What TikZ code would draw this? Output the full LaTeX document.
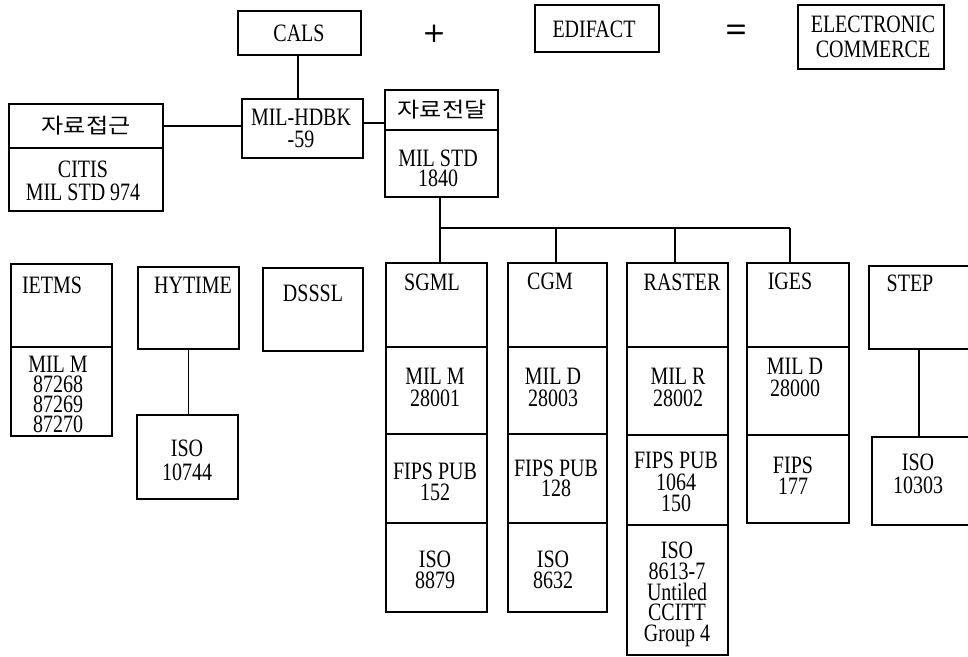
\documentclass[tikz,border=0pt]{standalone}
\usepackage{fontspec}
\setmainfont[FakeStretch=0.8]{Liberation Serif}
\newfontfamily\kor[FakeStretch=1.15]{Noto Sans CJK KR}
\newfontfamily\symf[FakeBold=1.5]{Liberation Serif}
\usetikzlibrary{fit}
\newcommand\bx[5]{\coordinate (#1-a) at (#2,#3); \coordinate (#1-b) at (#4,#5); \node[boxst, fit=(#1-a)(#1-b)] (#1) {};}
\begin{document}
\begin{tikzpicture}[x=1pt,y=-1pt,
 boxst/.style={draw, line width=1.2pt, inner sep=0pt},
 lbl/.style={font=\fontsize{25}{#1}\selectfont, align=center, inner sep=0pt},
 lbl/.default=21,
 sym/.style={font=\symf\fontsize{36}{36}\selectfont, inner sep=0pt},
 kl/.style={font=\kor\fontsize{21}{21}\selectfont, inner sep=0pt},
 conn/.style={line width=1.2pt}]
\useasboundingbox[fill=white] (0,0) rectangle (968,656);
\clip (0,0) rectangle (968,656);
% boxes
\bx{cals}{238}{11}{361}{55}
\bx{edi}{535}{5}{659}{52}
\bx{ec}{798}{5}{944}{69}
\bx{hdbk}{242}{99}{363}{158}
\bx{acc}{9}{104}{163}{148}
\bx{acc2}{9}{148}{163}{211}
\bx{dlv}{385}{90}{498}{130}
\bx{std}{385}{130}{498}{197}
\bx{ietms}{11}{264}{112}{347}
\bx{ietmsb}{11}{347}{112}{436}
\bx{hy}{138}{267}{239}{349}
\bx{isohy}{137}{415}{238}{499}
\bx{dsssl}{263}{268}{363}{351}
\bx{sgml}{386}{263}{487}{347}
\bx{sgmlb}{386}{347}{487}{434}
\bx{sgmlc}{386}{434}{487}{523}
\bx{sgmld}{386}{523}{487}{612}
\bx{cgm}{508}{263}{607}{347}
\bx{cgmb}{508}{347}{607}{434}
\bx{cgmc}{508}{434}{607}{523}
\bx{cgmd}{508}{523}{607}{612}
\bx{ras}{627}{263}{728}{347}
\bx{rasb}{627}{347}{728}{435}
\bx{rasc}{627}{435}{728}{525}
\bx{rasd}{627}{525}{728}{655}
\bx{iges}{747}{263}{849}{347}
\bx{igesb}{747}{347}{849}{435}
\bx{igesc}{747}{435}{849}{523}
\bx{step}{869}{266}{990}{349}
\bx{isost}{872}{437}{990}{525}
% texts
\node[lbl] (tcals) at (299,33) {CALS};
\node[sym] (tplus) at (434,35) {+};
\node[lbl] (tedi) at (594,29) {EDIFACT};
\node[sym] (teq) at (736,33) {=};
\node[lbl=25] (tec) at (873,37) {ELECTRONIC\\COMMERCE};
\node[lbl=22] (thdbk) at (301,128) {MIL-HDBK\\-59};
\node[kl] (tacc) at (86,126) {자료접근};
\node[lbl=23] (tcitis) at (83,180.5) {CITIS\\MIL STD 974};
\node[kl] (tdlv) at (442,110) {자료전달};
\node[lbl=20] (tstd) at (438,168) {MIL STD\\1840};
\node[lbl] (tietms) at (52,285) {IETMS};
\node[lbl=20] (tietmsb) at (58,394) {MIL M\\87268\\87269\\87270};
\node[lbl] (thy) at (193,285) {HYTIME};
\node[lbl=24] (tisohy) at (187,460) {ISO\\10744};
\node[lbl] (tdsssl) at (313,293) {DSSSL};
\node[lbl] (tsgml) at (432,282) {SGML};
\node[lbl=22] (tsgmlb) at (435,387) {MIL M\\28001};
\node[lbl=21] (tsgmlc) at (435,482) {FIPS PUB\\152};
\node[lbl=21] (tsgmld) at (435,569.5) {ISO\\8879};
\node[lbl] (tcgm) at (550,281) {CGM};
\node[lbl=22] (tcgmb) at (553,387) {MIL D\\28003};
\node[lbl=20] (tcgmc) at (556,478) {FIPS PUB\\128};
\node[lbl=21] (tcgmd) at (553,569.5) {ISO\\8632};
\node[lbl] (tras) at (682,282) {RASTER};
\node[lbl=22] (trasb) at (678,387) {MIL R\\28002};
\node[lbl=21.5] (trasc) at (676,482) {FIPS PUB\\1064\\150};
\node[lbl=20.75] (trasd) at (677,594.5) {ISO\\8613-7\\Untiled\\CCITT\\Group 4};
\node[lbl] (tiges) at (790,281) {IGES};
\node[lbl=22] (tigesb) at (795,377) {MIL D\\28000};
\node[lbl=21] (tigesc) at (793,475.5) {FIPS\\177};
\node[lbl] (tstep) at (910,283) {STEP};
\node[lbl=23] (tisost) at (918,473.5) {ISO\\10303};
% connectors
\coordinate (jc) at (298,55);
\draw[conn] (jc) -- (jc |- hdbk.north);
\draw[conn] (acc.east) -- (acc.east -| hdbk.west);
\coordinate (jd) at (363,123);
\draw[conn] (jd) -- (jd -| dlv.west);
\coordinate (bus0) at (440,197);
\coordinate (bus1) at (440,228);
\coordinate (bus2) at (556,228);
\coordinate (bus3) at (675,228);
\coordinate (bus4) at (790,228);
\draw[conn] (bus0) -- (bus1) -- (bus4);
\draw[conn] (bus1) -- (bus1 |- sgml.north);
\draw[conn] (bus2) -- (bus2 |- cgm.north);
\draw[conn] (bus3) -- (bus3 |- ras.north);
\draw[conn] (bus4) -- (bus4 |- iges.north);
\draw[conn] (hy.south) -- (hy.south |- isohy.north);
\coordinate (js) at (919,349);
\draw[conn] (js) -- (js |- isost.north);
\end{tikzpicture}
\end{document}
